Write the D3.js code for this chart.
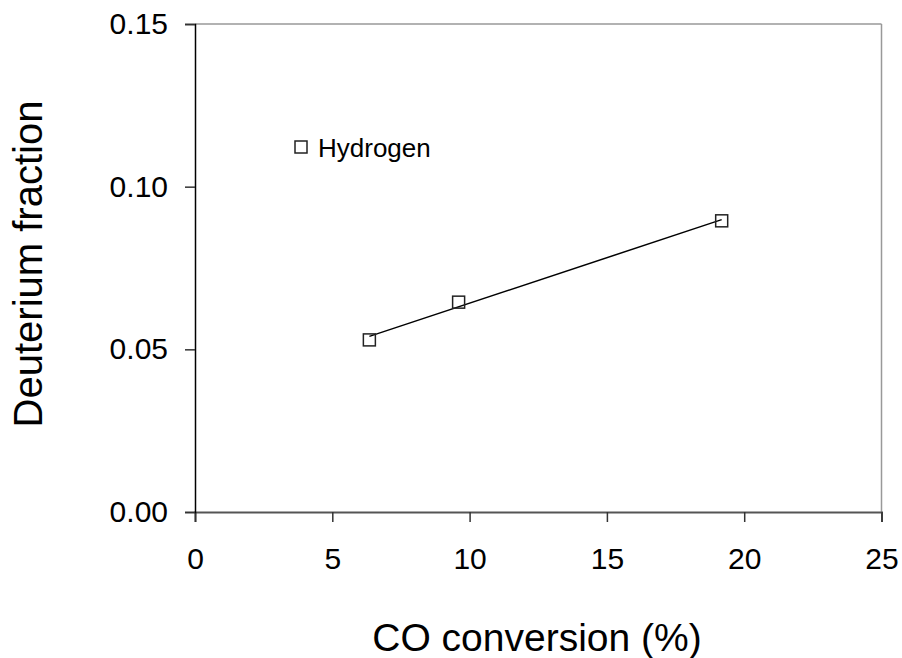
<!DOCTYPE html>
<html>
<head>
<meta charset="utf-8">
<script src="https://cdn.jsdelivr.net/npm/d3@7"></script>
<style>
  html, body { margin: 0; padding: 0; background: #fff; }
  svg { display: block; font-family: "Liberation Sans", Arial, sans-serif; }
</style>
</head>
<body>
<svg id="chart" width="902" height="658"></svg>
<script>
// CO conversion (%) vs. deuterium fraction, hydrogen series
const conversion = [6.35, 9.6, 19.18];
const deuterium = [0.0529, 0.0645, 0.0895];
const xTicks = [0, 5, 10, 15, 20, 25];
const yTicks = [0, 0.05, 0.10, 0.15];
const seriesName = "Hydrogen";

const FONT = "Liberation Sans, Arial, sans-serif";
const svg = d3.select("#chart");
const m = { left: 195, right: 881.5, top: 24, bottom: 512 };

const x = d3.scaleLinear().domain([0, 25]).range([m.left, m.right]);
const y = d3.scaleLinear().domain([0, 0.15]).range([m.bottom, m.top]);

// frame: light top/right edges
svg.append("line").attr("x1", m.left).attr("x2", m.right).attr("y1", m.top).attr("y2", m.top)
  .attr("stroke", "#999").attr("stroke-width", 1.5);
svg.append("line").attr("x1", m.right).attr("x2", m.right).attr("y1", m.top).attr("y2", m.bottom)
  .attr("stroke", "#999").attr("stroke-width", 1.5);

// x axis
const xAxis = svg.append("g").attr("transform", `translate(0,${m.bottom})`)
  .call(d3.axisBottom(x).tickValues(xTicks).tickSize(10).tickPadding(26).tickFormat(d3.format("d")));
xAxis.select(".domain").attr("stroke", "#555").attr("stroke-width", 2);
xAxis.selectAll(".tick line").attr("stroke", "#333").attr("stroke-width", 1.5);
xAxis.selectAll(".tick text").attr("font-size", 30).attr("fill", "#000").attr("font-family", FONT);

// y axis
const yAxis = svg.append("g").attr("transform", `translate(${m.left},0)`)
  .call(d3.axisLeft(y).tickValues(yTicks).tickSize(10).tickPadding(17).tickFormat(d3.format(".2f")));
yAxis.select(".domain").attr("stroke", "#000").attr("stroke-width", 1.5);
yAxis.selectAll(".tick line").attr("stroke", "#333").attr("stroke-width", 1.5);
yAxis.selectAll(".tick text").attr("font-size", 30).attr("fill", "#000").attr("font-family", FONT);

// linear least-squares trend line
const n = conversion.length;
const mx = d3.mean(conversion), my = d3.mean(deuterium);
let sxy = 0, sxx = 0;
for (let i = 0; i < n; i++) {
  sxy += (conversion[i] - mx) * (deuterium[i] - my);
  sxx += (conversion[i] - mx) ** 2;
}
const slope = sxy / sxx, intercept = my - slope * mx;
const x0 = d3.min(conversion), x1 = d3.max(conversion);
svg.append("line")
  .attr("x1", x(x0)).attr("y1", y(intercept + slope * x0))
  .attr("x2", x(x1)).attr("y2", y(intercept + slope * x1))
  .attr("stroke", "#000").attr("stroke-width", 1.5);

// square markers
const s = 12;
svg.append("g").selectAll("rect").data(conversion).join("rect")
  .attr("x", (d) => x(d) - s / 2)
  .attr("y", (d, i) => y(deuterium[i]) - s / 2)
  .attr("width", s).attr("height", s)
  .attr("fill", "none").attr("stroke", "#222").attr("stroke-width", 1.5);

// legend
svg.append("rect").attr("x", 301 - s / 2).attr("y", 147 - s / 2).attr("width", s).attr("height", s)
  .attr("fill", "none").attr("stroke", "#222").attr("stroke-width", 1.5);
svg.append("text").attr("x", 318).attr("y", 157).attr("font-size", 26).text(seriesName);

// axis titles
svg.append("text").attr("x", 537).attr("y", 651)
  .attr("text-anchor", "middle").attr("font-size", 39).text("CO conversion (%)");
svg.append("text").attr("transform", `translate(42,264) rotate(-90)`)
  .attr("text-anchor", "middle").attr("font-size", 40).text("Deuterium fraction");
</script>
</body>
</html>
